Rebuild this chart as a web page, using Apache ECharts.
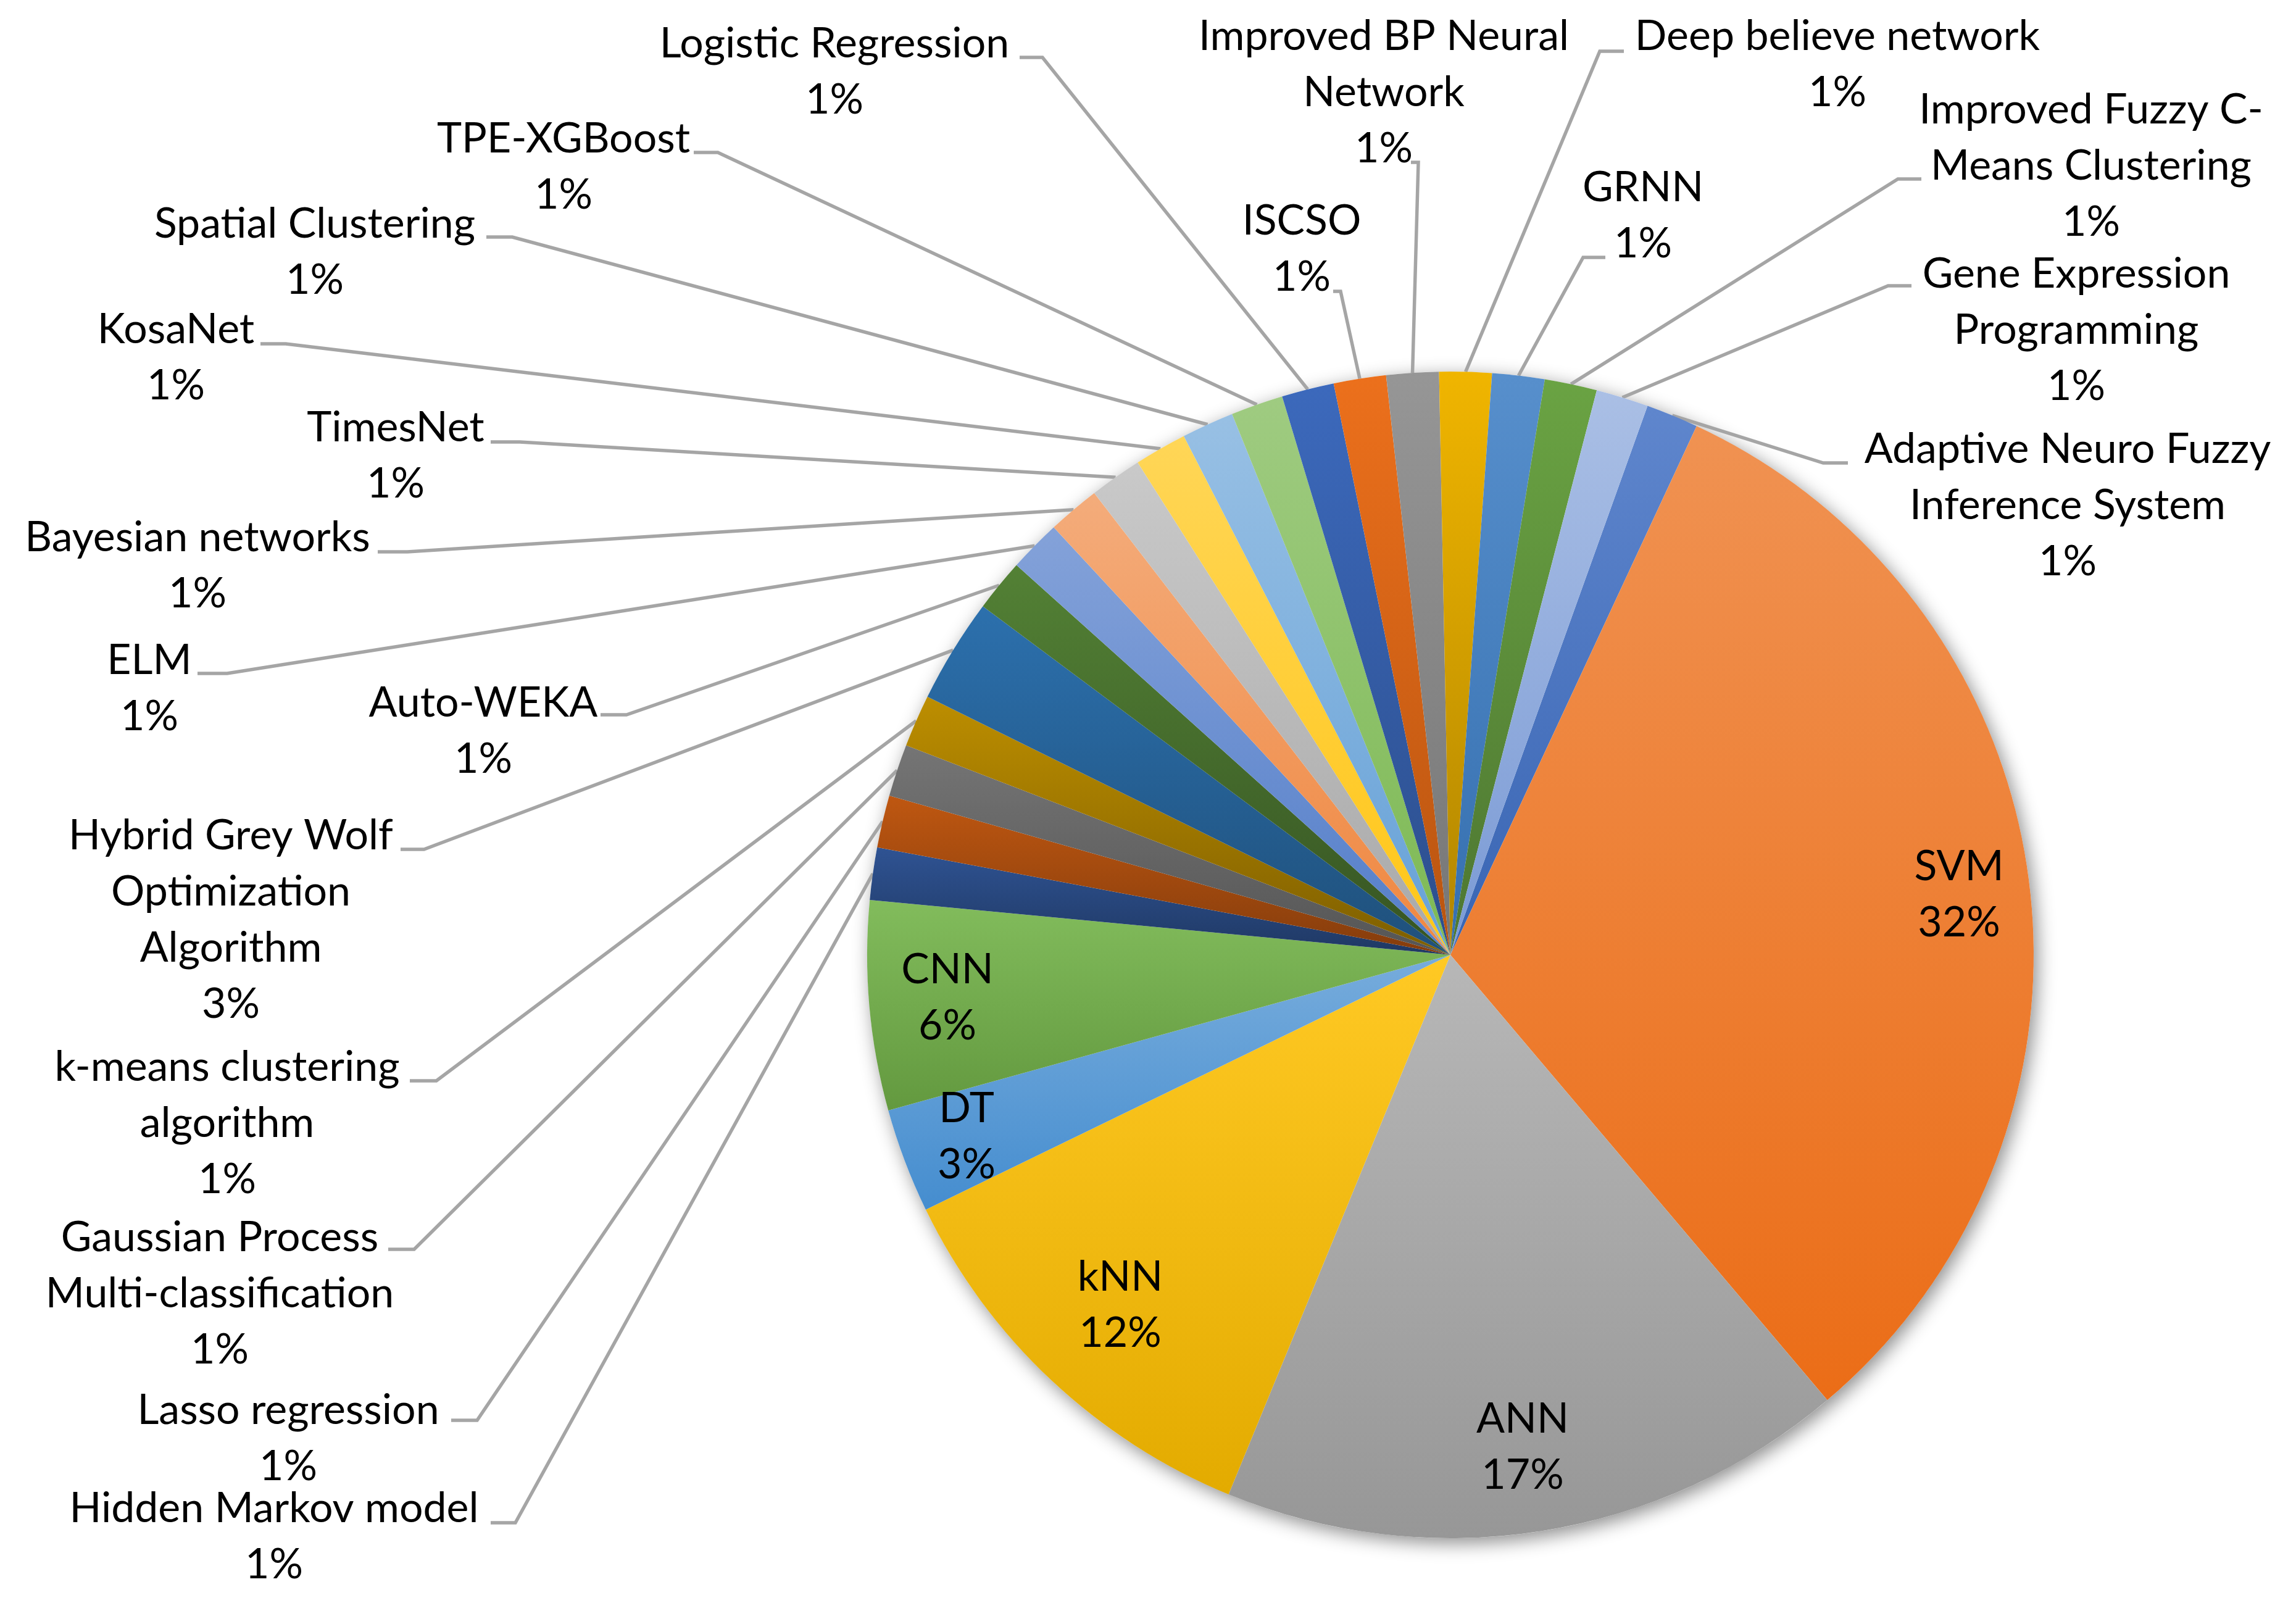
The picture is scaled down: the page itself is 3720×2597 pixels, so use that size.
<!DOCTYPE html>
<html><head><meta charset="utf-8">
<script src="https://cdn.jsdelivr.net/npm/echarts@6/dist/echarts.min.js"></script>
<style>html,body{margin:0;padding:0;background:#fff}#chart{width:3720px;height:2597px}</style>
</head><body><div id="chart"></div>
<script>
// ---- data (slice order clockwise, as in the reference) ----
const categories = ['Adaptive Neuro Fuzzy Inference System','SVM','ANN','kNN','DT','CNN','Hidden Markov model','Lasso regression','Gaussian Process Multi-classification','k-means clustering algorithm','Hybrid Grey Wolf Optimization Algorithm','Auto-WEKA','ELM','Bayesian networks','TimesNet','KosaNet','Spatial Clustering','TPE-XGBoost','Logistic Regression','ISCSO','Improved BP Neural Network','Deep believe network','GRNN','Improved Fuzzy C-Means Clustering','Gene Expression Programming'];
const counts = [1,22,12,8,2,4,1,1,1,1,2,1,1,1,1,1,1,1,1,1,1,1,1,1,1];
// label text as wrapped in the reference
const labelText = ['Adaptive Neuro Fuzzy\nInference System','SVM','ANN','kNN','DT','CNN','Hidden Markov model','Lasso regression','Gaussian Process\nMulti-classification','k-means clustering\nalgorithm','Hybrid Grey Wolf\nOptimization\nAlgorithm','Auto-WEKA','ELM','Bayesian networks','TimesNet','KosaNet','Spatial Clustering','TPE-XGBoost','Logistic Regression','ISCSO','Improved BP Neural\nNetwork','Deep believe network','GRNN','Improved Fuzzy C-\nMeans Clustering','Gene Expression\nProgramming'];
const insideIdx = [1,2,3,4,5];

// ---- style / layout ----
const palette = ['#4472C4','#ED7D31','#A5A5A5','#FFC000','#5B9BD5','#70AD47','#264478','#9E480E','#636363','#997300','#255E91','#43682B','#698ED0','#F1975A','#B7B7B7','#FFCD33','#7CAFDD','#8CC168','#335AA1','#D26012','#848484','#CC9A00','#3C7DC4','#5A8A39','#8FAADC'];
const CX = 2350, CY = 1547, R = 945, START = 70.25;
const FONT = 68, LINE_H = 91;
// [labelCenterX, firstLineCenterY, attachX, attachY, bendX]
const labelPos = [
  [3350, 728, 2994, 750, 2954],
  [3174, 1404], [2467, 2299], [1815, 2069], [1566, 1796], [1535, 1571],
  [444, 2444, 795, 2467, 835],
  [467, 2285, 731, 2301, 773],
  [356, 2005, 629, 2024, 671],
  [368, 1729, 664, 1751, 707],
  [374, 1354, 649, 1376, 687],
  [783, 1139, 973, 1158, 1015],
  [242, 1070, 320, 1091, 368],
  [320, 871, 612, 894, 660],
  [641, 693, 795, 716, 842],
  [285, 534, 422, 557, 463],
  [510, 363, 788, 384, 830],
  [913, 225, 1124, 247, 1163],
  [1352, 71, 1652, 93, 1689],
  [2109, 358, 2160, 472, 2172],
  [2242, 59, 2286, 263, 2298],
  [2977, 59, 2631, 83, 2592],
  [2662, 304, 2601, 417, 2565],
  [3388, 178, 3113, 290, 3075],
  [3364, 444, 3097, 463, 3059]
];

function hexRgb(h){h=h.replace('#','');return [parseInt(h.substr(0,2),16)/255,parseInt(h.substr(2,2),16)/255,parseInt(h.substr(4,2),16)/255];}
function rgb2hsl(c){const [r,g,b]=c;const mx=Math.max(r,g,b),mn=Math.min(r,g,b);let h=0,s=0;const l=(mx+mn)/2;
  if(mx!==mn){const d=mx-mn;s=l>0.5?d/(2-mx-mn):d/(mx+mn);
    if(mx===r)h=(g-b)/d+(g<b?6:0);else if(mx===g)h=(b-r)/d+2;else h=(r-g)/d+4;h/=6;}
  return [h,s,l];}
function hsl2rgb(h,s,l){if(s===0)return [l,l,l];const f=(p,q,t)=>{if(t<0)t+=1;if(t>1)t-=1;if(t<1/6)return p+(q-p)*6*t;if(t<1/2)return q;if(t<2/3)return p+(q-p)*(2/3-t)*6;return p;};
  const q=l<0.5?l*(1+s):l+s-l*s,p=2*l-q;return [f(p,q,h+1/3),f(p,q,h),f(p,q,h-1/3)];}
function adjL(hex,dl){const [h,s,l]=rgb2hsl(hexRgb(hex));const c=hsl2rgb(h,s,Math.max(0,Math.min(1,l+dl)));
  return 'rgb('+c.map(v=>Math.round(v*255)).join(',')+')';}

const total = counts.reduce((a,b)=>a+b,0);
function midPoint(i){
  let before = 0; for (let k=0;k<i;k++) before += counts[k];
  const a = (90 - START + (before + counts[i]/2)/total*360) * Math.PI/180;
  return [CX + R*Math.sin(a), CY - R*Math.cos(a)];
}

const seriesData = categories.map((name,i)=>{
  const item = {
    name, value: counts[i],
    itemStyle: { color: new echarts.graphic.LinearGradient(0,0,0,1,[{offset:0,color:adjL(palette[i],0.07)},{offset:1,color:adjL(palette[i],-0.055)}]) }
  };
  if (insideIdx.indexOf(i) >= 0) {
    item.label = { position: 'inside' };
    item.labelLine = { show: false };
  }
  return item;
});

const chart = echarts.init(document.getElementById('chart'), null, {renderer:'canvas'});
chart.setOption({
  backgroundColor: '#ffffff',
  animation: false,
  series: [
    { // soft drop shadow under the pie
      type: 'pie', silent: true, z: 1, center: [CX, CY], radius: R, startAngle: START,
      data: [{ value: 1, itemStyle: { color: '#ffffff', shadowBlur: 30, shadowColor: 'rgba(0,0,0,0.45)', shadowOffsetX: 6, shadowOffsetY: 8 } }],
      label: { show: false }, labelLine: { show: false }
    },
    {
      type: 'pie', z: 2, center: [CX, CY], radius: R, startAngle: START, clockwise: true,
      avoidLabelOverlap: false,
      data: seriesData,
      itemStyle: { borderWidth: 0 },
      label: {
        show: true, position: 'outside', color: '#000',
        fontFamily: 'Lato, "Liberation Sans", sans-serif', fontSize: FONT, lineHeight: LINE_H,
        formatter: p => labelText[p.dataIndex] + '\n' + Math.round(p.value / total * 100) + '%'
      },
      labelLine: { show: true, smooth: false, length: 20, length2: 20, lineStyle: { color: '#A5A5A5', width: 5.5 } },
      labelLayout: function (params) {
        const i = params.dataIndex;
        const L = labelPos[i];
        if (!L) return {};
        const out = { x: L[0], y: L[1] - LINE_H/2, align: 'center', verticalAlign: 'top' };
        if (L.length > 2) {
          const p0 = (params.labelLinePoints && params.labelLinePoints[0]) ? params.labelLinePoints[0] : midPoint(i);
          out.labelLinePoints = [p0, [L[4], L[3]], [L[2], L[3]]];
        }
        return out;
      }
    }
  ]
});
</script></body></html>
